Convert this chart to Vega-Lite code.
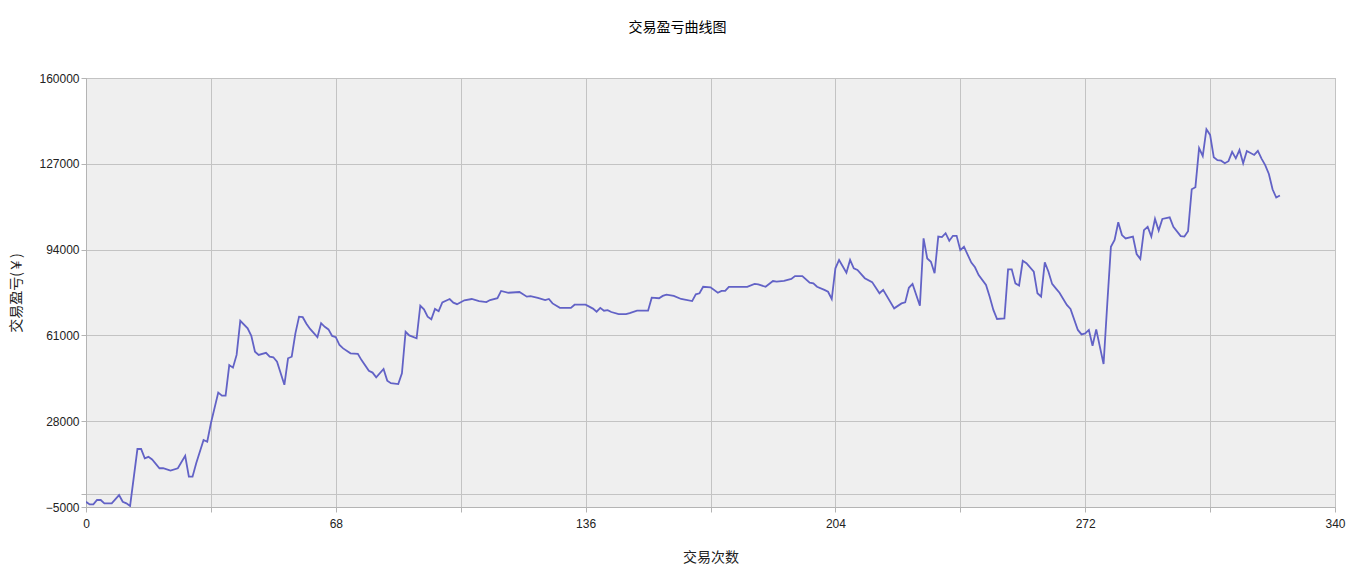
{
  "$schema": "https://vega.github.io/schema/vega-lite/v6.json",
  "width": 1249,
  "height": 429,
  "autosize": {"type": "none"},
  "padding": {"left": 86, "top": 78, "right": 15, "bottom": 69},
  "background": "white",
  "title": {
    "text": "交易盈亏曲线图",
    "anchor": "middle",
    "frame": "bounds",
    "font": "Noto Sans CJK SC",
    "fontSize": 14,
    "fontWeight": "normal",
    "color": "#000000",
    "offset": 37
  },
  "config": {
    "view": {"fill": "#efefef", "stroke": "#b4b4b4", "strokeWidth": 1},
    "axis": {
      "labelFont": "Liberation Sans",
      "labelFontSize": 12,
      "labelColor": "#222222",
      "titleFont": "Noto Sans CJK SC",
      "titleFontSize": 14,
      "titleFontWeight": "normal",
      "titleColor": "#222222",
      "gridColor": "#c3c3c3",
      "gridOpacity": 1,
      "gridWidth": 1,
      "domainColor": "#b4b4b4",
      "tickColor": "#b4b4b4",
      "tickSize": 5
    }
  },
  "data": {
    "values": [
      {"n": 0, "pnl": -3000}, {"n": 1, "pnl": -4000}, {"n": 2, "pnl": -4000}, {"n": 3, "pnl": -2300},
      {"n": 4, "pnl": -2300}, {"n": 5, "pnl": -3600}, {"n": 7, "pnl": -3600}, {"n": 9, "pnl": -400},
      {"n": 10, "pnl": -3000}, {"n": 11, "pnl": -3600}, {"n": 12, "pnl": -4600}, {"n": 14, "pnl": 17300},
      {"n": 15, "pnl": 17300}, {"n": 16, "pnl": 13700}, {"n": 17, "pnl": 14300}, {"n": 18, "pnl": 13300},
      {"n": 20, "pnl": 9900}, {"n": 21, "pnl": 9900}, {"n": 23, "pnl": 9000}, {"n": 25, "pnl": 9900},
      {"n": 27, "pnl": 14700}, {"n": 28, "pnl": 6650}, {"n": 29, "pnl": 6650}, {"n": 30, "pnl": 11800},
      {"n": 32, "pnl": 20800}, {"n": 33, "pnl": 20100}, {"n": 34, "pnl": 27200}, {"n": 36, "pnl": 39000},
      {"n": 37, "pnl": 37800}, {"n": 38, "pnl": 37800}, {"n": 39, "pnl": 49600}, {"n": 40, "pnl": 48600},
      {"n": 41, "pnl": 53500}, {"n": 42, "pnl": 66600}, {"n": 44, "pnl": 63700}, {"n": 45, "pnl": 60800},
      {"n": 46, "pnl": 54700}, {"n": 47, "pnl": 53500}, {"n": 49, "pnl": 54300}, {"n": 50, "pnl": 52800},
      {"n": 51, "pnl": 52600}, {"n": 52, "pnl": 50900}, {"n": 54, "pnl": 42000}, {"n": 55, "pnl": 52200},
      {"n": 56, "pnl": 52800}, {"n": 57, "pnl": 61800}, {"n": 58, "pnl": 68200}, {"n": 59, "pnl": 68000},
      {"n": 60, "pnl": 65500}, {"n": 61, "pnl": 63500}, {"n": 63, "pnl": 60300}, {"n": 64, "pnl": 65700},
      {"n": 65, "pnl": 64300}, {"n": 66, "pnl": 63300}, {"n": 67, "pnl": 60800}, {"n": 68, "pnl": 60300},
      {"n": 69, "pnl": 57300}, {"n": 70, "pnl": 56000}, {"n": 72, "pnl": 54100}, {"n": 74, "pnl": 53900},
      {"n": 75, "pnl": 51500}, {"n": 77, "pnl": 47400}, {"n": 78, "pnl": 46700}, {"n": 79, "pnl": 44900},
      {"n": 81, "pnl": 48100}, {"n": 82, "pnl": 43600}, {"n": 83, "pnl": 42600}, {"n": 85, "pnl": 42300},
      {"n": 86, "pnl": 46400}, {"n": 87, "pnl": 62400}, {"n": 88, "pnl": 61000}, {"n": 90, "pnl": 59900},
      {"n": 91, "pnl": 72400}, {"n": 92, "pnl": 71000}, {"n": 93, "pnl": 68200}, {"n": 94, "pnl": 67200},
      {"n": 95, "pnl": 71200}, {"n": 96, "pnl": 70300}, {"n": 97, "pnl": 73700}, {"n": 99, "pnl": 75000},
      {"n": 100, "pnl": 73600}, {"n": 101, "pnl": 73000}, {"n": 103, "pnl": 74500}, {"n": 105, "pnl": 75000},
      {"n": 107, "pnl": 74200}, {"n": 109, "pnl": 73800}, {"n": 110, "pnl": 74600}, {"n": 112, "pnl": 75300},
      {"n": 113, "pnl": 78100}, {"n": 115, "pnl": 77400}, {"n": 118, "pnl": 77700}, {"n": 120, "pnl": 75900},
      {"n": 121, "pnl": 76100}, {"n": 123, "pnl": 75400}, {"n": 125, "pnl": 74600}, {"n": 126, "pnl": 75000},
      {"n": 127, "pnl": 73300}, {"n": 129, "pnl": 71600}, {"n": 132, "pnl": 71600}, {"n": 133, "pnl": 72800},
      {"n": 136, "pnl": 72800}, {"n": 138, "pnl": 71300}, {"n": 139, "pnl": 70100}, {"n": 140, "pnl": 71600},
      {"n": 141, "pnl": 70500}, {"n": 142, "pnl": 70700}, {"n": 143, "pnl": 70000}, {"n": 145, "pnl": 69200},
      {"n": 147, "pnl": 69200}, {"n": 148, "pnl": 69600}, {"n": 150, "pnl": 70500}, {"n": 153, "pnl": 70500},
      {"n": 154, "pnl": 75500}, {"n": 156, "pnl": 75300}, {"n": 157, "pnl": 76200}, {"n": 158, "pnl": 76700},
      {"n": 160, "pnl": 76200}, {"n": 162, "pnl": 75000}, {"n": 165, "pnl": 74200}, {"n": 166, "pnl": 76800},
      {"n": 167, "pnl": 77200}, {"n": 168, "pnl": 79700}, {"n": 170, "pnl": 79500}, {"n": 172, "pnl": 77400},
      {"n": 173, "pnl": 78100}, {"n": 174, "pnl": 78100}, {"n": 175, "pnl": 79700}, {"n": 180, "pnl": 79700},
      {"n": 182, "pnl": 80800}, {"n": 183, "pnl": 80600}, {"n": 185, "pnl": 79700}, {"n": 187, "pnl": 81900},
      {"n": 188, "pnl": 81700}, {"n": 190, "pnl": 82000}, {"n": 192, "pnl": 82700}, {"n": 193, "pnl": 83800},
      {"n": 195, "pnl": 83800}, {"n": 197, "pnl": 81300}, {"n": 198, "pnl": 81000}, {"n": 199, "pnl": 79700},
      {"n": 201, "pnl": 78500}, {"n": 202, "pnl": 77800}, {"n": 203, "pnl": 75000}, {"n": 204, "pnl": 86800},
      {"n": 205, "pnl": 90000}, {"n": 207, "pnl": 85100}, {"n": 208, "pnl": 90000}, {"n": 209, "pnl": 86800},
      {"n": 210, "pnl": 86200}, {"n": 212, "pnl": 83000}, {"n": 214, "pnl": 81500}, {"n": 216, "pnl": 77200},
      {"n": 217, "pnl": 78500}, {"n": 220, "pnl": 71400}, {"n": 222, "pnl": 73300}, {"n": 223, "pnl": 73700},
      {"n": 224, "pnl": 79300}, {"n": 225, "pnl": 80800}, {"n": 227, "pnl": 72400}, {"n": 228, "pnl": 98300},
      {"n": 229, "pnl": 90600}, {"n": 230, "pnl": 89300}, {"n": 231, "pnl": 84900}, {"n": 232, "pnl": 99000},
      {"n": 233, "pnl": 98800}, {"n": 234, "pnl": 100300}, {"n": 235, "pnl": 97400}, {"n": 236, "pnl": 99300},
      {"n": 237, "pnl": 99300}, {"n": 238, "pnl": 93800}, {"n": 239, "pnl": 95100}, {"n": 241, "pnl": 89000},
      {"n": 242, "pnl": 87200}, {"n": 243, "pnl": 84200}, {"n": 245, "pnl": 80400}, {"n": 246, "pnl": 75900},
      {"n": 247, "pnl": 70800}, {"n": 248, "pnl": 67300}, {"n": 250, "pnl": 67500}, {"n": 251, "pnl": 86400},
      {"n": 252, "pnl": 86400}, {"n": 253, "pnl": 81000}, {"n": 254, "pnl": 80200}, {"n": 255, "pnl": 89700},
      {"n": 256, "pnl": 88800}, {"n": 258, "pnl": 85500}, {"n": 259, "pnl": 77200}, {"n": 260, "pnl": 75900},
      {"n": 261, "pnl": 89100}, {"n": 262, "pnl": 85500}, {"n": 263, "pnl": 80800}, {"n": 264, "pnl": 79100},
      {"n": 265, "pnl": 77400}, {"n": 267, "pnl": 72700}, {"n": 268, "pnl": 71200}, {"n": 270, "pnl": 63100},
      {"n": 271, "pnl": 61400}, {"n": 272, "pnl": 61800}, {"n": 273, "pnl": 63100}, {"n": 274, "pnl": 57000},
      {"n": 275, "pnl": 63300}, {"n": 276, "pnl": 56600}, {"n": 277, "pnl": 50000}, {"n": 278, "pnl": 73000},
      {"n": 279, "pnl": 95100}, {"n": 280, "pnl": 97700}, {"n": 281, "pnl": 104500}, {"n": 282, "pnl": 99600},
      {"n": 283, "pnl": 98300}, {"n": 285, "pnl": 99000}, {"n": 286, "pnl": 92300}, {"n": 287, "pnl": 90400},
      {"n": 288, "pnl": 101500}, {"n": 289, "pnl": 102800}, {"n": 290, "pnl": 99000}, {"n": 291, "pnl": 105800},
      {"n": 292, "pnl": 101300}, {"n": 293, "pnl": 105800}, {"n": 295, "pnl": 106400}, {"n": 296, "pnl": 102800},
      {"n": 298, "pnl": 99200}, {"n": 299, "pnl": 99000}, {"n": 300, "pnl": 101100}, {"n": 301, "pnl": 117200},
      {"n": 302, "pnl": 118000}, {"n": 303, "pnl": 133000}, {"n": 304, "pnl": 130000}, {"n": 305, "pnl": 140300},
      {"n": 306, "pnl": 138100}, {"n": 307, "pnl": 129500}, {"n": 308, "pnl": 128400}, {"n": 309, "pnl": 128200},
      {"n": 310, "pnl": 127200}, {"n": 311, "pnl": 128000}, {"n": 312, "pnl": 131600}, {"n": 313, "pnl": 129100},
      {"n": 314, "pnl": 132300}, {"n": 315, "pnl": 127200}, {"n": 316, "pnl": 131900}, {"n": 318, "pnl": 130400},
      {"n": 319, "pnl": 132000}, {"n": 320, "pnl": 129000}, {"n": 321, "pnl": 126500}, {"n": 322, "pnl": 123100},
      {"n": 323, "pnl": 117200}, {"n": 324, "pnl": 114000}, {"n": 325, "pnl": 114800}
    ]
  },
  "mark": {"type": "line", "color": "#6262c6", "strokeWidth": 1.8, "strokeJoin": "miter", "clip": true},
  "encoding": {
    "x": {
      "field": "n",
      "type": "quantitative",
      "title": "交易次数",
      "scale": {"domain": [0, 340], "nice": false, "zero": false},
      "axis": {
        "values": [0, 34, 68, 102, 136, 170, 204, 238, 272, 306, 340],
        "labelExpr": "datum.value % 68 == 0 ? datum.label : ''",
        "format": "d",
        "labelPadding": 6,
        "titlePadding": 21,
        "labelFlush": false,
        "labelOverlap": false
      }
    },
    "y": {
      "field": "pnl",
      "type": "quantitative",
      "title": "交易盈亏(￥)",
      "scale": {"domain": [-5000, 160000], "nice": false, "zero": false},
      "axis": {
        "values": [-5000, 0, 28000, 61000, 94000, 127000, 160000],
        "labelExpr": "datum.value == 0 ? '' : datum.label",
        "format": "d",
        "labelPadding": 2,
        "titlePadding": 15,
        "labelFlush": false,
        "labelOverlap": false
      }
    }
  }
}
